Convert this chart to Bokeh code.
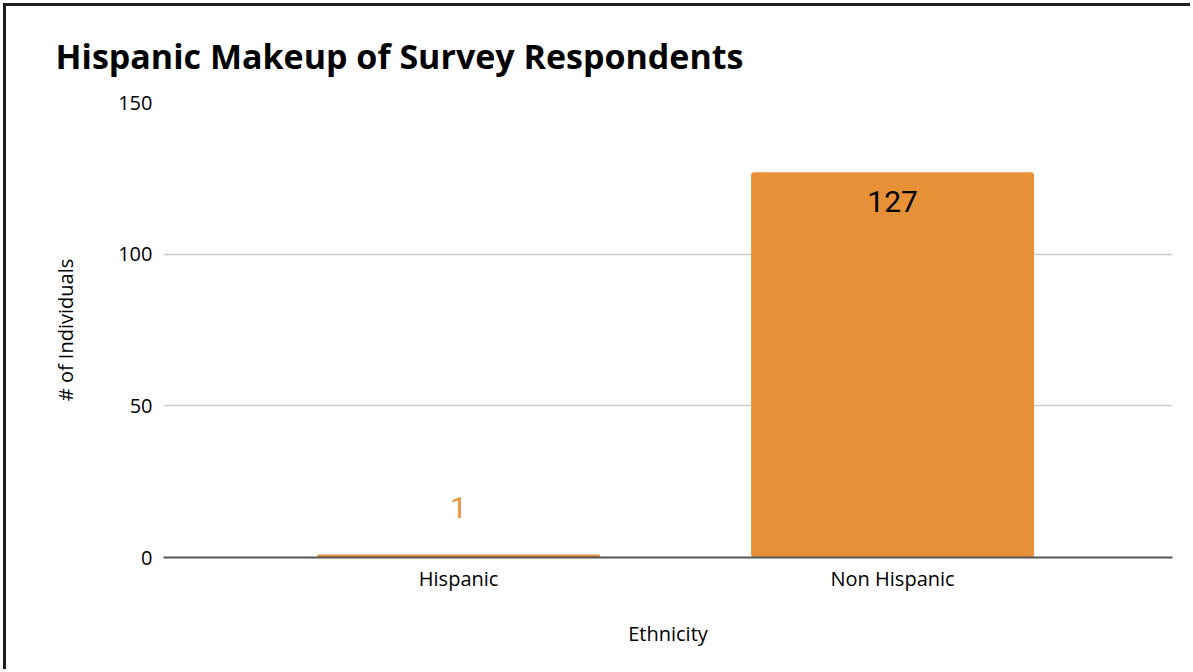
from bokeh.plotting import figure
from bokeh.models import ColumnDataSource, Range1d, FixedTicker, LabelSet
from bokeh.core.properties import value
from bokeh.embed import file_html
from bokeh.resources import INLINE

# Survey data
categories = ["Hispanic", "Non Hispanic"]
counts = [1, 127]
y_ticks = [0, 50, 100, 150]

BAR_COLOR = "#E69138"
AXIS_FONT = "Open Sans"

xs = list(range(len(categories)))
# short bars get their label above in bar colour, tall bars inside in black
label_y = [c + 15.5 if c < 20 else c - 9.5 for c in counts]
label_color = [BAR_COLOR if c < 20 else "#000000" for c in counts]
label_text = [str(c) for c in counts]

source = ColumnDataSource(dict(
    x=xs, top=counts, label_y=label_y, label_text=label_text, label_color=label_color,
))

p = figure(
    width=1187, height=666,
    x_range=Range1d(-0.68, 1.645),
    y_range=Range1d(0, 150),
    output_backend="svg",
    toolbar_location=None,
    min_border_left=157, min_border_right=21,
    min_border_top=96, min_border_bottom=115,
)
p.styles = {
    "border-top": "3px solid #1e1e1e",
    "border-left": "3px solid #1e1e1e",
    "margin-top": "3px",
    "margin-left": "3px",
}

p.title.text = "Hispanic Makeup of Survey Respondents"
p.title.text_font = "Open Sans"
p.title.text_font_size = "34px"
p.title.text_font_style = "bold"
p.title.text_color = "#000000"
p.title.offset = -108
p.title.standoff = 47

p.vbar(x="x", top="top", width=0.652, source=source,
       fill_color=BAR_COLOR, line_color=None, border_radius=3)

labels = LabelSet(x="x", y="label_y", text="label_text", source=source,
                  text_align="center", text_baseline="middle",
                  text_color="label_color", text_font=value("Roboto"),
                  text_font_size="30px")
p.add_layout(labels)

# axes
p.xaxis.ticker = FixedTicker(ticks=xs)
p.xaxis.major_label_overrides = {i: c for i, c in enumerate(categories)}
p.xaxis.axis_label = "Ethnicity"
p.xaxis.axis_line_color = "#555555"
p.xaxis.axis_line_width = 2
p.xaxis.major_label_standoff = 7
p.xaxis.axis_label_standoff = 25

p.yaxis.ticker = FixedTicker(ticks=y_ticks)
p.yaxis.axis_label = "# of Individuals"
p.yaxis.axis_line_color = None
p.yaxis.major_label_standoff = 11
p.yaxis.axis_label_standoff = 36

for ax in (p.xaxis, p.yaxis):
    ax.major_tick_line_color = None
    ax.minor_tick_line_color = None
    ax.major_tick_out = 0
    ax.major_tick_in = 0
    ax.minor_tick_out = 0
    ax.major_label_text_font = AXIS_FONT
    ax.major_label_text_font_size = "20px"
    ax.major_label_text_color = "#000000"
    ax.axis_label_text_font = AXIS_FONT
    ax.axis_label_text_font_size = "20px"
    ax.axis_label_text_font_style = "normal"
    ax.axis_label_text_color = "#000000"

p.xgrid.grid_line_color = None
p.ygrid.grid_line_color = "#cccccc"
p.ygrid.grid_line_width = 1.5
p.outline_line_color = None
p.background_fill_color = "white"
p.border_fill_color = "white"

open("out.html", "w").write(file_html(p, INLINE))
